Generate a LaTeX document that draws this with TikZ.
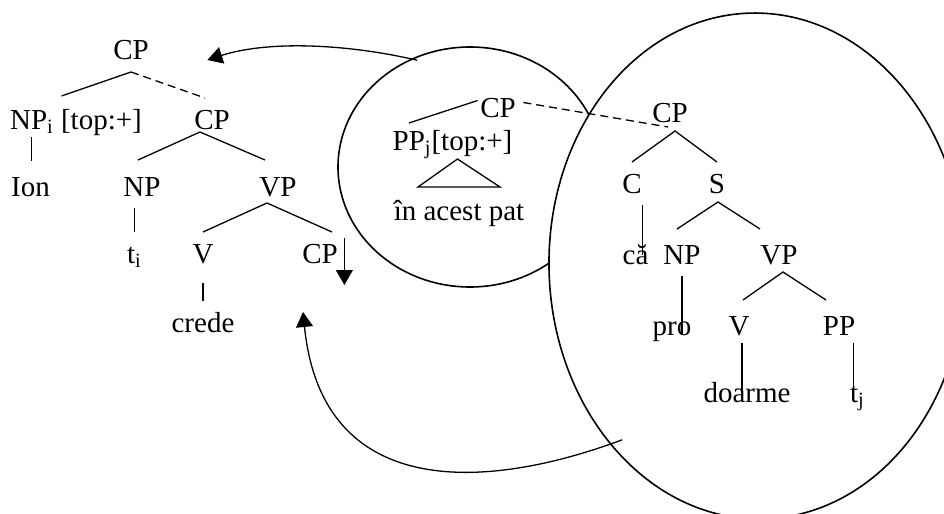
\documentclass[tikz,border=0pt]{standalone}
\usepackage{fontspec}
\setmainfont{Liberation Serif}
\usetikzlibrary{arrows.meta,calc,shapes.geometric}
\tikzset{
>={Triangle[length=7.5pt,width=8.5pt]},
x=0.5pt,y=-0.5pt,
cat node/.style={anchor=base,inner sep=0pt,text height=9.5pt,text depth=0pt,outer ysep=6pt},
bubble/.style={ellipse,draw,inner sep=0pt,line width=0.8pt},
dashed link/.style={dash pattern=on 4pt off 2.5pt},
move arrow/.style={->,line width=0.65pt}}

\begin{document}
\begin{tikzpicture}[font=\fontsize{14.5}{17}\selectfont,line width=0.65pt]

\useasboundingbox (0,0) rectangle (944,514);
\clip (0,0) rectangle (944,514);

\node[bubble,minimum width=132pt,minimum height=120pt] (ringA) at (470,167) {};
\node[bubble,fill=white,minimum width=208pt,minimum height=253pt,rotate=1.5] (ringB) at (757,266) {};

\node[cat node] (cp0) at (131,60) {CP};
\node[cat node] (npi) at (76,129) {NP\textsubscript{i} [top:+]};
\node[cat node] (cpm) at (212,129) {CP};
\node[cat node] (ion) at (30.5,196) {Ion};
\node[cat node] (np) at (142,196) {NP};
\node[cat node] (vp) at (278,196) {VP};
\node[cat node] (ti) at (134.5,263) {t\textsubscript{i}};
\node[cat node] (v) at (203,263) {V};
\node[cat node] (cpl) at (320,263) {CP};
\node[cat node] (crede) at (203,332) {crede};

\node[cat node] (cpc) at (498,117) {CP};
\node[cat node] (ppj) at (452.5,150) {PP\textsubscript{j}[top:+]};
\node[cat node] (inap) at (459,220) {în acest pat};

\node[cat node] (cpb) at (670,122) {CP};
\node[cat node] (cb) at (632,193) {C};
\node[cat node] (sb) at (717,193) {S};
\node[cat node] (ca) at (635.5,264) {că};
\node[cat node] (npb) at (682,264) {NP};
\node[cat node] (vpb) at (779,264) {VP};
\node[cat node] (pro) at (672,335) {pro};
\node[cat node] (vbb) at (739,335) {V};
\node[cat node] (ppb) at (839,335) {PP};
\node[cat node] (doarme) at (747,402) {doarme};
\node[cat node] (tj) at (857.5,402) {t\textsubscript{j}};

\draw (cp0.south) -- ($(npi.north west)+(52,-2)$);
\draw[dashed link] (cp0.south) -- ($(cpm.north)+(-7,0)$);
\draw ($(ion.north |- npi.south)+(1,-4)$) -- ($(ion.north)+(1,-4)$);
\draw ($(np.north)+(-4,-5)$) -- ($(cpm.south)+(-12,-9)$) -- ($(vp.north)+(-13,-5)$);
\draw (ti.north |- np.south) -- (ti.north);
\draw (v.north) -- ($(vp.south)+(-11,-5)$) -- ($(cpl.north)+(12,0)$);
\draw ($(v.south)+(0,8)$) -- (crede.north);
\draw[move arrow] ($(cpl.north east)+(6,6)$) -- ($(cpl.south east)+(6,10)$);

\draw ($(ppj.north west)+(17,4)$) -- ($(cpc.west)+(-2,-7)$);
\draw[dashed link] ($(cpc.east)+(7,-5)$) -- ($(cpb.south)+(-2,-7)$);
\draw ($(ppj.south)+(5,-3)$) -- ($(inap.north)+(-41,-2)$) -- ($(inap.north)+(41,-2)$) -- cycle;

\draw (cb.north) -- ($(cpb.south)+(5,-3)$) -- (sb.north);
\draw (cb.south east) -- ($(cb.south east |- ca.base)+(0,-9)$);
\draw ($(npb.north)+(-5,-4)$) -- ($(sb.south)+(1,-3)$) -- ($(vpb.north)+(-19,-4)$);
\draw (npb.south) -- (npb.south |- pro.base);
\draw ($(vbb.north)+(4,-4)$) -- ($(vpb.south)+(4,-4)$) -- ($(ppb.north)+(-13,-4)$);
\draw ($(vbb.south)+(3,-4)$) -- ($(vbb.south |- doarme.base)+(3,-9)$);
\draw ($(ppb.south east)+(-2,-4)$) -- ($(ppb.south east |- tj.base)+(-2,-9)$);

\draw[move arrow] ($(ringA.118)+(5,2)$) .. controls +(-68,-16) and +(62,-20) .. ($(cp0.base east)+(58,0)$);
\draw[move arrow,shorten <=-6.5pt] (ringB.229) .. controls +(-126,47) and +(19,188) .. ($(cpl.south)+(-17,37)$);
\end{tikzpicture}
\end{document}
